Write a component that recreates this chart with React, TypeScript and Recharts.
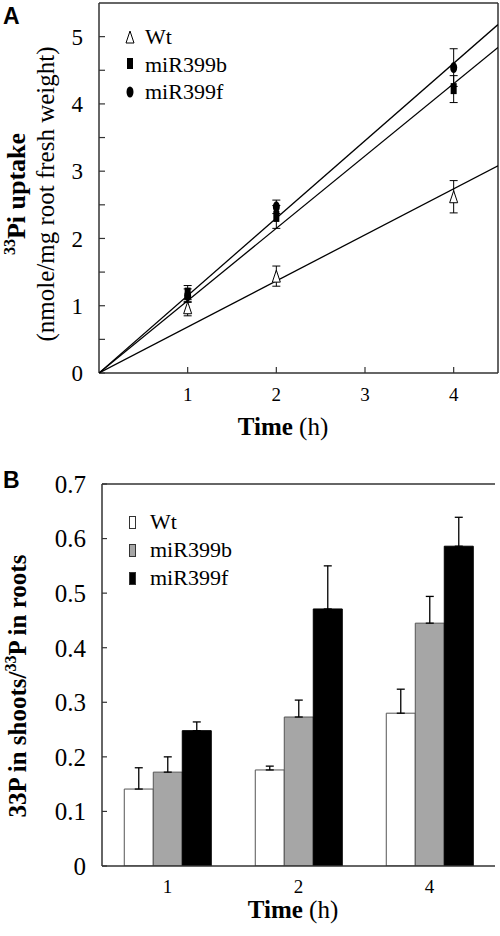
import React from 'react';
import {
  ScatterChart, Scatter, XAxis, YAxis, ErrorBar, ReferenceLine,
  BarChart, Bar,
} from 'recharts';

// ---------- Panel A data ----------
const times = [1, 2, 4];
const seriesNames = ['Wt', 'miR399b', 'miR399f'];
const uptakeWt = [0.97, 1.44, 2.62];
const uptakeWtErr = [0.12, 0.15, 0.24];
const uptakeB = [1.18, 2.32, 4.22];
const uptakeBErr = [0.12, 0.17, 0.2];
const uptakeF = [1.15, 2.47, 4.54];
const uptakeFErr = [0.1, 0.1, 0.28];
const fitTimes = [0, 4.5];
const fitWt = [0, 3.08];
const fitB = [0, 4.84];
const fitF = [0, 5.18];
const xTicksA = [1, 2, 3, 4];
const yTicksA = [0, 0.5, 1, 1.5, 2, 2.5, 3, 3.5, 4, 4.5, 5];

// ---------- Panel B data ----------
const groups = ['1', '2', '4'];
const ratioWt = [0.141, 0.176, 0.28];
const ratioWtErr = [0.039, 0.007, 0.044];
const ratioB = [0.172, 0.273, 0.445];
const ratioBErr = [0.028, 0.031, 0.049];
const ratioF = [0.248, 0.471, 0.586];
const ratioFErr = [0.016, 0.079, 0.053];
const yTicksB = [0, 0.1, 0.2, 0.3, 0.4, 0.5, 0.6, 0.7];

const SERIF = "'Liberation Serif', 'Times New Roman', serif";
const SANS = "'Liberation Sans', Arial, sans-serif";
const AXIS = '#333';

const pts = (vals: number[], errs: number[]) =>
  times.map((t, i) => ({ t, v: vals[i], err: errs[i] }));
const fit = (vals: number[]) => fitTimes.map((t, i) => ({ t, v: vals[i] }));

const ptsWt = pts(uptakeWt, uptakeWtErr);
const ptsB = pts(uptakeB, uptakeBErr);
const ptsF = pts(uptakeF, uptakeFErr);

const barData = groups.map((g, i) => ({
  g,
  wt: ratioWt[i], wtErr: [0, ratioWtErr[i]],
  b: ratioB[i], bErr: [0, ratioBErr[i]],
  f: ratioF[i], fErr: [0, ratioFErr[i]],
}));

const Triangle = ({ cx, cy }: any) => (
  <polygon points={`${cx},${cy - 6} ${cx - 4},${cy + 6} ${cx + 4},${cy + 6}`} fill="#fff" stroke="#000" strokeWidth={1} />
);
const Square = ({ cx, cy }: any) => <rect x={cx - 3} y={cy - 6} width={6} height={11} fill="#000" />;
const Dot = ({ cx, cy }: any) => <ellipse cx={cx} cy={cy} rx={3.5} ry={5.5} fill="#000" />;
const NoShape = () => <g />;

const markerFor = [
  <svg width={12} height={16} style={{ display: 'block' }}><polygon points="6,2 2,14 10,14" fill="#fff" stroke="#000" strokeWidth={1} /></svg>,
  <svg width={12} height={16} style={{ display: 'block' }}><rect x={3} y={2} width={6} height={11} fill="#000" /></svg>,
  <svg width={12} height={16} style={{ display: 'block' }}><ellipse cx={6} cy={8} rx={3.5} ry={5.5} fill="#000" /></svg>,
];

const LegendA = () => (
  <div style={{ position: 'absolute', left: 124, top: 23, fontFamily: SERIF, fontSize: 22, color: '#000' }}>
    {seriesNames.map((n, i) => (
      <div key={n} style={{ display: 'flex', alignItems: 'center', height: 27.5, lineHeight: '27.5px' }}>
        {markerFor[i]}
        <span style={{ marginLeft: 9 }}>{n}</span>
      </div>
    ))}
  </div>
);

const swatchFill = ['#fff', '#a6a6a6', '#000'];
const LegendB = () => (
  <div style={{ position: 'absolute', left: 129, top: 508, fontFamily: SERIF, fontSize: 22, color: '#000' }}>
    {seriesNames.map((n, i) => (
      <div key={n} style={{ display: 'flex', alignItems: 'center', height: 28, lineHeight: '28px' }}>
        <svg width={7} height={13} style={{ display: 'block' }}><rect x={0.5} y={0.5} width={6} height={12} fill={swatchFill[i]} stroke="#333" strokeWidth={1} /></svg>
        <span style={{ marginLeft: 14 }}>{n}</span>
      </div>
    ))}
  </div>
);

const TimeTitle = (cx: number, y: number) => () => (
  <text x={cx} y={y} textAnchor="middle" fontFamily={SERIF} fontSize={25} fill="#000">
    <tspan fontWeight="bold">Time</tspan>
    <tspan> (h)</tspan>
  </text>
);

const YTitleA = () => {
  const cy = 194;
  const x1 = 25;
  const x2 = 54;
  return (
    <g fontFamily={SERIF} fill="#000">
      <text x={x1} y={cy} transform={`rotate(-90 ${x1} ${cy})`} textAnchor="middle" fontWeight="bold" fontSize={26}>
        <tspan fontSize={16} dy={-10}>33</tspan>
        <tspan dy={10}>Pi uptake</tspan>
      </text>
      <text x={x2} y={cy} transform={`rotate(-90 ${x2} ${cy})`} textAnchor="middle" fontSize={25}>
        (nmole/mg root fresh weight)
      </text>
    </g>
  );
};

const YTitleB = () => {
  const cy = 226;
  const x = 26;
  return (
    <text x={x} y={cy} transform={`rotate(-90 ${x} ${cy})`} textAnchor="middle" fontFamily={SERIF} fontWeight="bold" fontSize={25} fill="#000">
      <tspan>33P in shoots/</tspan>
      <tspan fontSize={16} dy={-10}>33</tspan>
      <tspan dy={10}>P in roots</tspan>
    </text>
  );
};

const PanelLetter = ({ t, y }: { t: string; y: number }) => (
  <div style={{ position: 'absolute', left: 3, top: y, fontFamily: SANS, fontWeight: 'bold', fontSize: 23, lineHeight: '23px', color: '#000' }}>{t}</div>
);

export default function App() {
  return (
    <div style={{ position: 'absolute', left: 0, top: 0, width: 500, height: 936, background: '#fff', fontFamily: SERIF }}>
      <div style={{ position: 'absolute', left: 0, top: 0 }}>
        <ScatterChart width={500} height={450} margin={{ top: 3, right: 2, left: 39, bottom: 37 }}>
          <XAxis
            type="number" dataKey="t" domain={[0, 4.5]} ticks={xTicksA} allowDataOverflow
            tickSize={-6} tickMargin={21} height={40}
            axisLine={{ stroke: AXIS, strokeWidth: 1.5 }} tickLine={{ stroke: AXIS, strokeWidth: 1.2 }}
            tick={{ fontSize: 19, fill: '#000', fontFamily: SERIF }}
            label={TimeTitle(283, 435)}
          />
          <YAxis
            type="number" dataKey="v" domain={[0, 5.5]} ticks={yTicksA} allowDataOverflow
            tickSize={-6} tickMargin={22} width={60} interval={0}
            tickFormatter={(v: number) => (Number.isInteger(v) ? String(v) : '')}
            axisLine={{ stroke: AXIS, strokeWidth: 1.5 }} tickLine={{ stroke: AXIS, strokeWidth: 1.2 }}
            tick={{ fontSize: 23, fill: '#000', fontFamily: SERIF }}
            label={YTitleA}
          />
          <ReferenceLine y={5.5} stroke={AXIS} strokeWidth={1.5} />
          <ReferenceLine x={4.5} stroke={AXIS} strokeWidth={1.5} />
          <Scatter data={fit(fitWt)} line={{ stroke: '#000', strokeWidth: 1.3 }} shape={NoShape} legendType="none" isAnimationActive={false} />
          <Scatter data={fit(fitB)} line={{ stroke: '#000', strokeWidth: 1.3 }} shape={NoShape} legendType="none" isAnimationActive={false} />
          <Scatter data={fit(fitF)} line={{ stroke: '#000', strokeWidth: 1.3 }} shape={NoShape} legendType="none" isAnimationActive={false} />
          <Scatter name={seriesNames[0]} data={ptsWt} shape={Triangle} isAnimationActive={false}>
            <ErrorBar dataKey="err" direction="y" width={4} stroke="#000" strokeWidth={1} />
          </Scatter>
          <Scatter name={seriesNames[1]} data={ptsB} shape={Square} isAnimationActive={false}>
            <ErrorBar dataKey="err" direction="y" width={4} stroke="#000" strokeWidth={1} />
          </Scatter>
          <Scatter name={seriesNames[2]} data={ptsF} shape={Dot} isAnimationActive={false}>
            <ErrorBar dataKey="err" direction="y" width={4} stroke="#000" strokeWidth={1} />
          </Scatter>
        </ScatterChart>
      </div>
      <LegendA />
      <PanelLetter t="A" y={5} />

      <div style={{ position: 'absolute', left: 0, top: 460 }}>
        <BarChart width={500} height={476} data={barData} margin={{ top: 24, right: 5, left: 42, bottom: 30 }}
          barCategoryGap="17%" barGap={0}>
          <XAxis
            dataKey="g" height={40} tickLine={false} tickSize={0} tickMargin={14}
            axisLine={{ stroke: AXIS, strokeWidth: 1.5 }}
            tick={{ fontSize: 19, fill: '#000', fontFamily: SERIF }}
            label={TimeTitle(293, 458)}
          />
          <YAxis
            type="number" domain={[0, 0.7]} ticks={yTicksB} interval={0} allowDataOverflow
            tickSize={-5} tickMargin={21} width={60}
            axisLine={{ stroke: AXIS, strokeWidth: 1.5 }} tickLine={{ stroke: AXIS, strokeWidth: 1.2 }}
            tick={{ fontSize: 25, fill: '#000', fontFamily: SERIF }}
            label={YTitleB}
          />
          <YAxis yAxisId="r" orientation="right" width={0} tick={false} tickLine={false}
            axisLine={{ stroke: AXIS, strokeWidth: 1.5 }} domain={[0, 0.7]} />
          <ReferenceLine y={0.7} stroke={AXIS} strokeWidth={1.5} />
          <Bar dataKey="wt" name={seriesNames[0]} fill="#fff" stroke="#555" strokeWidth={1} isAnimationActive={false}>
            <ErrorBar dataKey="wtErr" direction="y" width={4} stroke="#000" strokeWidth={1.3} />
          </Bar>
          <Bar dataKey="b" name={seriesNames[1]} fill="#a6a6a6" stroke="#555" strokeWidth={1} isAnimationActive={false}>
            <ErrorBar dataKey="bErr" direction="y" width={4} stroke="#000" strokeWidth={1.3} />
          </Bar>
          <Bar dataKey="f" name={seriesNames[2]} fill="#000" stroke="#000" strokeWidth={1} isAnimationActive={false}>
            <ErrorBar dataKey="fErr" direction="y" width={4} stroke="#000" strokeWidth={1.3} />
          </Bar>
        </BarChart>
      </div>
      <LegendB />
      <PanelLetter t="B" y={469} />
    </div>
  );
}
